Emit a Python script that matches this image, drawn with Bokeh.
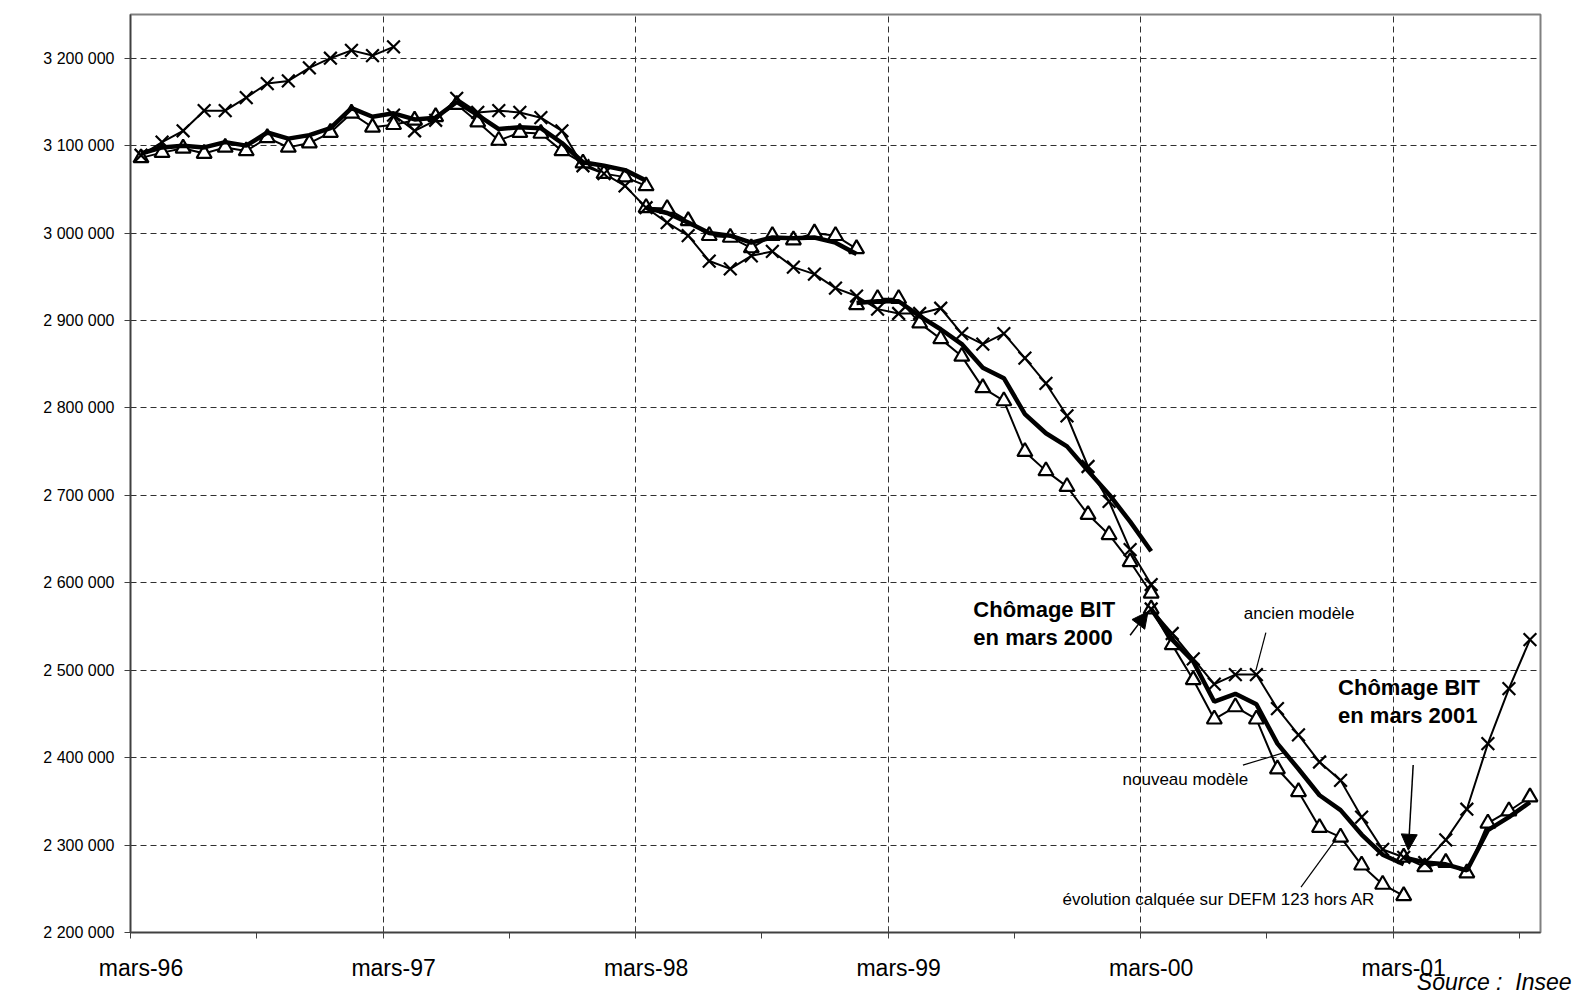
from bokeh.plotting import figure
from bokeh.models import (Range1d, LinearAxis, FixedTicker, CustomJSTickFormatter,
                          Grid, Label, Arrow, NormalHead)
from bokeh.embed import file_html
from bokeh.resources import INLINE

# ---------------- data ----------------
tick_labels = ["mars-96", "mars-97", "mars-98", "mars-99", "mars-00", "mars-01"]
n_months = 67  # mars-96 .. sept-01
y_ticks = [2200000, 2300000, 2400000, 2500000, 2600000, 2700000,
           2800000, 2900000, 3000000, 3100000, 3200000]
source_text = "Source :\u00a0 Insee"

# "ancien modèle" (X markers): start month index + values
ancien_1_start = 0
ancien_1 = [3089000, 3104000, 3117000, 3140000, 3140000, 3155000, 3171000,
            3174000, 3189000, 3200000, 3209000, 3203000, 3213000]
ancien_2_start = 12
ancien_2 = [3135000, 3117000, 3129000, 3154000, 3138000, 3140000, 3138000,
            3132000, 3117000, 3077000, 3068000, 3054000, 3029000, 3012000,
            2997000, 2968000, 2959000, 2974000, 2979000, 2961000, 2953000,
            2937000, 2928000, 2913000, 2908000, 2908000, 2914000, 2885000,
            2873000, 2885000, 2857000, 2828000, 2791000, 2733000, 2693000,
            2638000, 2598000]
ancien_3_start = 48
ancien_3 = [2570000, 2542000, 2513000, 2484000, 2495000, 2495000, 2456000,
            2426000, 2395000, 2374000, 2332000, 2295000, 2286000, 2280000,
            2306000, 2341000, 2416000, 2479000, 2535000]

# "nouveau modèle" (thick line)
nouveau_1_start = 0
nouveau_1 = [3091000, 3098000, 3100000, 3098000, 3104000, 3100000, 3115000,
             3108000, 3112000, 3120000, 3143000, 3133000, 3137000, 3130000,
             3132000, 3150000, 3135000, 3119000, 3121000, 3120000, 3103000,
             3081000, 3077000, 3072000, 3060000]
nouveau_2_start = 24
nouveau_2 = [3029000, 3023000, 3012000, 3000000, 2997000, 2989000, 2995000,
             2994000, 2995000, 2989000, 2976000]
nouveau_3_start = 34
nouveau_3 = [2920000, 2922000, 2922000, 2905000, 2890000, 2873000, 2846000,
             2834000, 2793000, 2771000, 2756000, 2728000, 2701000, 2670000,
             2636000]
nouveau_4_start = 48
nouveau_4 = [2570000, 2535000, 2510000, 2464000, 2473000, 2461000, 2416000,
             2387000, 2357000, 2340000, 2312000, 2289000, 2278000]
nouveau_5_start = 60
nouveau_5 = [2286000, 2280000, 2278000, 2271000, 2317000, 2332000, 2349000]

# "évolution calquée sur DEFM 123 hors AR" (triangles)
defm_1_start = 0
defm_1 = [3086000, 3092000, 3097000, 3091000, 3098000, 3094000, 3109000,
          3098000, 3103000, 3115000, 3137000, 3121000, 3124000, 3129000,
          3133000, 3147000, 3127000, 3106000, 3115000, 3114000, 3094000,
          3080000, 3068000, 3064000, 3054000]
defm_2_start = 24
defm_2 = [3029000, 3028000, 3014000, 2997000, 2995000, 2983000, 2997000,
          2992000, 3000000, 2997000, 2982000]
defm_3_start = 34
defm_3 = [2918000, 2925000, 2925000, 2897000, 2879000, 2859000, 2823000,
          2808000, 2750000, 2728000, 2710000, 2678000, 2655000, 2624000,
          2588000]
defm_4_start = 48
defm_4 = [2570000, 2529000, 2489000, 2444000, 2458000, 2444000, 2387000,
          2361000, 2320000, 2309000, 2277000, 2255000, 2242000]
defm_5_start = 60
defm_5 = [2286000, 2275000, 2280000, 2268000, 2325000, 2339000, 2355000]

ancien_segments = [(ancien_1_start, ancien_1), (ancien_2_start, ancien_2),
                   (ancien_3_start, ancien_3)]
nouveau_segments = [(nouveau_1_start, nouveau_1), (nouveau_2_start, nouveau_2),
                    (nouveau_3_start, nouveau_3), (nouveau_4_start, nouveau_4),
                    (nouveau_5_start, nouveau_5)]
defm_segments = [(defm_1_start, defm_1), (defm_2_start, defm_2),
                 (defm_3_start, defm_3), (defm_4_start, defm_4),
                 (defm_5_start, defm_5)]

FONT = "Liberation Sans"
AXIS_COLOR = "#404040"

# ---------------- figure ----------------
p = figure(width=1575, height=997, output_backend="svg", toolbar_location=None,
           x_range=Range1d(0, n_months), y_range=Range1d(2200000, 3250000),
           x_axis_type=None, y_axis_type=None,
           min_border_left=130, min_border_right=35, min_border_top=14,
           min_border_bottom=64)
p.outline_line_color = "#808080"
p.outline_line_width = 2
p.background_fill_color = "white"
p.border_fill_color = "white"

# y axis
yaxis = LinearAxis(ticker=FixedTicker(ticks=y_ticks),
                   formatter=CustomJSTickFormatter(
                       code="return tick.toFixed(0).replace(/\\B(?=(\\d{3})+(?!\\d))/g, ' ');"))
yaxis.axis_line_color = AXIS_COLOR
yaxis.axis_line_width = 1.5
yaxis.major_tick_line_color = AXIS_COLOR
yaxis.major_tick_out = 6
yaxis.major_tick_in = 0
yaxis.minor_tick_line_color = None
yaxis.major_label_standoff = 10
yaxis.major_label_text_font = FONT
yaxis.major_label_text_font_size = "16px"
yaxis.major_label_text_color = "black"
p.add_layout(yaxis, "left")

# x axis: tick marks at month boundaries
year_bounds = [12 * k for k in range(len(tick_labels))]
half_bounds = [12 * k + 6 for k in range(len(tick_labels))]
xaxis = LinearAxis(ticker=FixedTicker(ticks=year_bounds, minor_ticks=half_bounds),
                   formatter=CustomJSTickFormatter(code="return '';"))
xaxis.axis_line_color = AXIS_COLOR
xaxis.axis_line_width = 1.5
xaxis.major_tick_line_color = AXIS_COLOR
xaxis.major_tick_in = 6
xaxis.major_tick_out = 6
xaxis.minor_tick_line_color = AXIS_COLOR
xaxis.minor_tick_in = 0
xaxis.minor_tick_out = 6
xaxis.major_label_standoff = 0
p.add_layout(xaxis, "below")

# x axis labels: centred under the March category
label_pos = [12 * k + 0.5 for k in range(len(tick_labels))]
xlab = LinearAxis(ticker=FixedTicker(ticks=label_pos),
                  formatter=CustomJSTickFormatter(args=dict(labels=tick_labels),
                                                  code="return labels[Math.round((tick - 0.5) / 12)];"))
xlab.axis_line_color = None
xlab.major_tick_line_color = None
xlab.minor_tick_line_color = None
xlab.major_tick_out = 0
xlab.major_tick_in = 0
xlab.major_label_standoff = 16
xlab.major_label_text_font = FONT
xlab.major_label_text_font_size = "23px"
xlab.major_label_text_color = "black"
p.add_layout(xlab, "below")

# source note (italic) at the bottom right
src_pos = [64.8]
src = LinearAxis(ticker=FixedTicker(ticks=src_pos),
                 formatter=CustomJSTickFormatter(args=dict(t=source_text),
                                                 code="return t;"))
src.axis_line_color = None
src.major_tick_line_color = None
src.minor_tick_line_color = None
src.major_tick_out = 0
src.major_tick_in = 0
src.major_label_standoff = -15
src.major_label_text_align = "left"
src.major_label_text_font = FONT
src.major_label_text_font_size = "23px"
src.major_label_text_font_style = "italic"
src.major_label_text_color = "black"
p.add_layout(src, "below")

# grids
p.add_layout(Grid(dimension=0, ticker=FixedTicker(ticks=year_bounds[1:]),
                  grid_line_color="#303030", grid_line_dash="6 4", grid_line_width=1))
p.add_layout(Grid(dimension=1, ticker=FixedTicker(ticks=y_ticks[1:]),
                  grid_line_color="#303030", grid_line_dash="6 4", grid_line_width=1))

def xs_for(start, vals):
    return [start + k + 0.5 for k in range(len(vals))]

# series
for start, vals in defm_segments:
    p.line(xs_for(start, vals), vals, line_color="black", line_width=2)
for start, vals in ancien_segments:
    p.line(xs_for(start, vals), vals, line_color="black", line_width=2)
for start, vals in defm_segments:
    p.scatter(xs_for(start, vals), vals, marker="triangle", size=15,
              line_color="black", line_width=2.2, fill_color="white")
for start, vals in ancien_segments:
    p.scatter(xs_for(start, vals), vals, marker="x", size=18,
              line_color="black", line_width=2.2)
for start, vals in nouveau_segments:
    p.line(xs_for(start, vals), vals, line_color="black", line_width=4.5)

# annotations
def lab(x, y, text, size, style="normal", align="left"):
    p.add_layout(Label(x=x, y=y, text=text, text_font=FONT, text_font_size=size,
                       text_font_style=style, text_align=align,
                       text_baseline="middle", text_color="black"))

lab(40.05, 2569000, "Chômage BIT", "22px", "bold")
lab(40.05, 2537000, "en mars 2000", "22px", "bold")
lab(57.38, 2480000, "Chômage BIT", "22px", "bold")
lab(57.38, 2448000, "en mars 2001", "22px", "bold")
lab(52.9, 2565000, "ancien modèle", "17px")
lab(47.14, 2375000, "nouveau modèle", "17px")
lab(44.29, 2238000, "évolution calquée sur DEFM 123 hors AR", "17px")

def leader(x0, y0, x1, y1):
    p.add_layout(Arrow(end=None, x_start=x0, y_start=y0, x_end=x1, y_end=y1,
                       line_color="black", line_width=1.2))

leader(53.95, 2543000, 53.48, 2500000)
leader(52.86, 2391500, 54.86, 2406000)
leader(55.62, 2252000, 57.29, 2307000)

p.add_layout(Arrow(end=NormalHead(size=16, fill_color="black", line_color="black"),
                   x_start=47.5, y_start=2540000, x_end=48.35, y_end=2567000,
                   line_color="black", line_width=1.5))
p.add_layout(Arrow(end=NormalHead(size=16, fill_color="black", line_color="black"),
                   x_start=60.95, y_start=2391500, x_end=60.72, y_end=2294000,
                   line_color="black", line_width=1.5))

open("out.html", "w").write(file_html(p, INLINE))
